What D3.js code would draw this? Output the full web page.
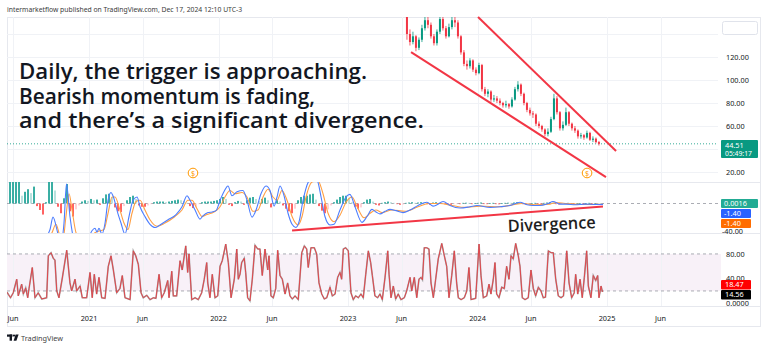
<!DOCTYPE html>
<html><head><meta charset="utf-8">
<script src="https://cdn.jsdelivr.net/npm/d3@7"></script>
<style>body{margin:0;background:#fff;} svg{display:block;font-family:"Noto Sans",sans-serif;}</style>
</head><body><svg id="c" width="768" height="349"></svg>
<script>
// ---------- DATA ----------
const timeTicks = [2020.414, 2021, 2021.414, 2022, 2022.414, 2023, 2023.414, 2024, 2024.414, 2025, 2025.414];
const timeTickLabels = ["Jun","2021","Jun","2022","Jun","2023","Jun","2024","Jun","2025","Jun"];
const priceGrid = [140, 120, 100, 80, 60, 40, 20];
const priceTickLabels = [120, 100, 80, 60, 20];
const oscTickLabels = [[80,"80.00"],[40,"40.00"],[0,"0.0000"]];
const lastPrice = 44.51;
const countdown = "05:49:17";

// weekly-ish candles (step ~8.5 days) from mid 2023
const priceStart = 2023.432, priceStep = 0.023166;
const priceO = [165,158,140,133,138,128,135,145,152,148,138,132,142,153,145,138,146,152,150,138,124,114,112,117,109,106,113,92,88,90,83,84,82,80,78,79,77,83,92,96,88,80,74,71,70,62,60,57,53,55,66,84,72,58,61,72,62,58,56,51,52,50,54,48,49,46];
const priceH = [170,160,144,142,139,137,148,156,155,150,140,144,157,155,147,149,157,158,152,139,126,117,119,118,111,115,114,94,92,91,87,86,84,81,82,80,85,94,99,97,89,81,76,73,71,64,61,58,58,68,88,86,73,64,76,73,63,60,57,54,53,56,55,51,50,47];
const priceL = [156,135,130,131,125,126,133,143,145,136,130,130,140,143,136,137,144,146,136,122,112,109,110,107,104,105,90,86,85,81,81,80,78,76,76,75,76,82,90,86,78,72,69,67,60,58,55,51,51,54,65,70,56,56,60,60,56,54,49,49,48,49,47,46,45,43];
const priceC = [160,140,133,138,128,135,145,152,148,138,132,142,153,145,138,146,152,150,138,124,114,112,117,109,106,113,92,88,90,83,84,82,80,78,79,77,83,92,96,88,80,74,71,70,62,60,57,53,55,66,84,72,58,61,72,62,58,56,51,52,50,54,48,49,46,44.51];

// trendlines [t, price]
const upperTrend = [[2024.004, 154.8],[2025.070, 38.3]];
const lowerTrend = [[2023.487, 124.3],[2024.992, 15.6]];
const dividends = [2021.803, 2024.846];

// MACD
const histStart = 2020.390, histStep = 0.023166;
const macdHist = [34,34,34,34,12,18,22,16,26,-4,-10,-17,2,35,35,20,-5,-15,8,30,-12,-20,-9,-3,3,5,4,7,5,6,-2,8,14,15,10,-6,-12,-13,-4,5,10,12,7,-3,-5,-5,-3,-1,2,3,3,3,2,3,4,5,6,5,4,1,-4,-7,-5,-1,2,3,3,3,4,5,7,10,7,-2,-4,2,4,3,-2,5,9,10,7,4,7,9,5,-6,1,6,3,-3,-8,-12,-15,-8,5,10,12,12,14,15,6,-4,-11,-15,-9,-3,2,6,10,12,12,8,2,-5,-8,-6,2,6,7,3,-2,-3,1,2,3,2,1,-1,-2,-1.5,1,1.5,2,1,1.5,2,1,-1,-2,1.5,2,1,0.8,-1,-1.5,-2,-1,-0.8,-1,1,1.2,1,-1,0.8,1,1.5,-0.8,-1,0.8,1,-1,-1.2,0.7,1,1.2,1,1.5,2,1.5,-1,-1.5,-1,0.8,1,-0.8,-1,1,1.5,2,1.5,-1,-1.5,-1,0.8,1,-0.8,-1,0.7,0.8,-0.7,0.7,1,-0.7,0.6,0.5,0.2];
const macdT = [2020.367,2020.622,2020.676,2020.699,2020.722,2020.761,2020.784,2020.807,2020.826,2020.853,2020.876,2020.915,2020.992,2021.023,2021.046,2021.062,2021.077,2021.100,2021.124,2021.147,2021.170,2021.185,2021.224,2021.247,2021.278,2021.309,2021.340,2021.371,2021.394,2021.432,2021.471,2021.510,2021.548,2021.610,2021.672,2021.718,2021.757,2021.780,2021.819,2021.857,2021.880,2021.919,2021.950,2021.981,2022.012,2022.042,2022.073,2022.104,2022.143,2022.189,2022.220,2022.259,2022.290,2022.328,2022.367,2022.398,2022.429,2022.452,2022.475,2022.506,2022.537,2022.568,2022.598,2022.622,2022.653,2022.691,2022.722,2022.761,2022.792,2022.822,2022.861,2022.892,2022.938,2022.985,2023.015,2023.054,2023.108,2023.147,2023.185,2023.216,2023.247,2023.286,2023.324,2023.371,2023.425,2023.479,2023.541,2023.610,2023.656,2023.687,2023.734,2023.788,2023.865,2023.942,2023.996,2024.097,2024.174,2024.251,2024.328,2024.382,2024.429,2024.483,2024.544,2024.583,2024.637,2024.691,2024.753,2024.830,2024.907,2024.969];
const macdV = [-80,-70,-50,-40,-21,-47,-60,-30,30,-20,-50,-70,-55,-42,-38,-44,-38,-47,-30,5,17,12,-16,-30,-47,-20,5,10,-5,-20,-32,-37,-33,-25,-17,-5,12,5,-10,-24,-19,-14,-13,-11,5,18,27,12,18,20,5,-21,-10,15,27,20,-4,10,27,12,-15,-32,-37,-28,5,32,38,36,10,-20,-33,-32,-10,10,14,-5,-29,-20,-9,-13,-16,-12,-9,-11,-14,-10,-3,2,-4,-2,3,-3,-7,-5,-3,-6,-5,-3,2,-2,-3,-3,0,3,-1,-1,-2,-1,-1.5,-1.4];
const signalT = [2020.367,2020.660,2020.714,2020.745,2020.776,2020.799,2020.822,2020.846,2020.869,2020.900,2020.969,2021.046,2021.085,2021.116,2021.147,2021.178,2021.201,2021.239,2021.270,2021.301,2021.332,2021.363,2021.394,2021.432,2021.471,2021.525,2021.587,2021.664,2021.718,2021.764,2021.795,2021.834,2021.873,2021.911,2021.965,2022.012,2022.050,2022.089,2022.127,2022.181,2022.220,2022.266,2022.305,2022.344,2022.382,2022.421,2022.452,2022.490,2022.529,2022.568,2022.614,2022.645,2022.676,2022.722,2022.768,2022.807,2022.846,2022.892,2022.938,2022.985,2023.031,2023.070,2023.124,2023.170,2023.216,2023.263,2023.340,2023.440,2023.541,2023.625,2023.710,2023.803,2023.903,2024.019,2024.174,2024.344,2024.444,2024.560,2024.606,2024.676,2024.792,2024.969];
const signalV = [-85,-65,-45,-32,-50,-55,-20,15,-10,-45,-65,-45,-42,-40,-15,10,10,-10,-30,-40,-15,3,5,-10,-25,-35,-30,-20,-10,5,5,-8,-20,-17,-13,-5,10,20,15,17,10,-12,-10,10,22,10,5,20,5,-20,-33,-20,10,33,35,15,-15,-28,-18,2,10,-5,-22,-15,-10,-14,-10,-12,-5,0,0,-3,-6,-4,-5,0,-2,-1,1.5,0,-1.5,-1.4];
const divergenceLine = [[2022.568, -41.5],[2024.969, -4.6]];
const macdLabels = ["0.0016","-1.40","-1.40"];

// Oscillator
const oscT = [2020.367,2020.377,2020.394,2020.415,2020.442,2020.454,2020.480,2020.493,2020.511,2020.527,2020.537,2020.562,2020.583,2020.608,2020.635,2020.673,2020.686,2020.707,2020.724,2020.737,2020.751,2020.768,2020.794,2020.828,2020.853,2020.866,2020.892,2020.905,2020.931,2020.948,2020.982,2021.008,2021.025,2021.041,2021.059,2021.077,2021.098,2021.124,2021.149,2021.170,2021.188,2021.214,2021.239,2021.257,2021.278,2021.317,2021.342,2021.361,2021.381,2021.402,2021.419,2021.446,2021.471,2021.497,2021.517,2021.541,2021.561,2021.581,2021.608,2021.618,2021.639,2021.651,2021.677,2021.703,2021.720,2021.747,2021.762,2021.772,2021.793,2021.819,2021.844,2021.870,2021.890,2021.909,2021.917,2021.934,2021.952,2021.973,2021.994,2022.012,2022.029,2022.056,2022.076,2022.097,2022.122,2022.141,2022.153,2022.166,2022.179,2022.199,2022.210,2022.225,2022.243,2022.261,2022.282,2022.303,2022.320,2022.338,2022.359,2022.380,2022.390,2022.405,2022.423,2022.442,2022.457,2022.475,2022.493,2022.514,2022.534,2022.552,2022.570,2022.591,2022.616,2022.643,2022.663,2022.681,2022.693,2022.714,2022.740,2022.758,2022.776,2022.797,2022.817,2022.836,2022.861,2022.879,2022.900,2022.920,2022.938,2022.951,2022.964,2022.982,2023.002,2023.023,2023.041,2023.059,2023.080,2023.100,2023.118,2023.137,2023.157,2023.175,2023.188,2023.208,2023.229,2023.247,2023.265,2023.286,2023.307,2023.317,2023.332,2023.350,2023.368,2023.388,2023.409,2023.435,2023.453,2023.479,2023.492,2023.512,2023.531,2023.548,2023.564,2023.575,2023.589,2023.608,2023.625,2023.641,2023.659,2023.677,2023.697,2023.724,2023.744,2023.762,2023.780,2023.801,2023.821,2023.839,2023.852,2023.873,2023.898,2023.917,2023.934,2023.950,2023.986,2024.012,2024.027,2024.045,2024.071,2024.089,2024.104,2024.122,2024.135,2024.148,2024.166,2024.187,2024.207,2024.225,2024.243,2024.259,2024.276,2024.295,2024.315,2024.328,2024.346,2024.367,2024.392,2024.413,2024.431,2024.449,2024.470,2024.490,2024.508,2024.525,2024.547,2024.568,2024.585,2024.604,2024.624,2024.645,2024.664,2024.689,2024.707,2024.727,2024.747,2024.758,2024.774,2024.792,2024.809,2024.825,2024.843,2024.856,2024.876,2024.894,2024.913,2024.928,2024.938,2024.954,2024.965];
const oscV = [18,14.6,9,17,39,12,31,15,25,9,24,58,9,17,7,9,77,82,73,70,20,9,41,86,33,20,39,20,28,9,9,50,9,47,15,42,9,8,60,77,54,17,24,45,9,6,85,77,63,17,9,13,6,9,8,47,9,17,37,9,52,12,12,69,54,93,50,80,6,9,6,17,39,66,33,9,47,9,12,60,69,96,66,9,39,88,39,47,66,73,50,9,4,39,94,88,88,45,88,54,77,12,9,24,86,45,39,15,33,12,7,12,6,82,93,88,58,90,90,80,33,15,7,9,26,12,15,42,50,39,88,90,85,17,6,12,9,15,9,47,85,66,45,12,9,15,6,42,85,47,9,28,7,15,6,9,20,42,20,42,9,39,42,38,90,90,88,33,9,39,72,97,77,60,9,45,85,33,9,6,9,20,58,6,8,96,45,9,12,31,15,39,66,15,9,26,24,60,39,77,72,97,77,60,9,6,9,54,24,12,26,20,9,10,85,82,82,39,12,9,12,85,33,9,17,47,15,39,9,42,85,28,9,45,37,45,9,28,18.47];
const oscLabels = ["18.47","14.56"];

const headerText = "intermarketflow published on TradingView.com, Dec 17, 2024 12:10 UTC-3";
const noteLines = ["Daily, the trigger is approaching.","Bearish momentum is fading,","and there\u2019s a significant divergence."];

// ---------- LAYOUT ----------
const L = 7, R = 718, FR = 760, T = 17, P1 = 182, P2 = 233, P3 = 306, B = 326;
const svg = d3.select("#c");
svg.append("rect").attr("width",768).attr("height",349).attr("fill","#fff");

const x = d3.scaleLinear().domain([2021, 2025]).range([89, 607]);
const yP = d3.scaleLinear().domain([20, 120]).range([172, 57]);
const yM = d3.scaleLinear().domain([-40, 0]).range([229.5, 203.5]);
const yO = d3.scaleLinear().domain([0, 100]).range([303.3, 241.6]);

const defs = svg.append("defs");
function clip(id, y0, y1){ defs.append("clipPath").attr("id",id).append("rect").attr("x",L).attr("y",y0).attr("width",R-L).attr("height",y1-y0); }
clip("cp", T, P1); clip("cm", P1, P2); clip("co", P2, P3);

// header
svg.append("text").attr("x",7).attr("y",12).attr("font-size",6.8).attr("fill","#3a3a3a").text(headerText);

// frame
svg.append("rect").attr("x",L+0.5).attr("y",T+0.5).attr("width",FR-L).attr("height",B-T).attr("fill","none").attr("stroke","#e6e8ee");

// oscillator band (behind grid)
svg.append("rect").attr("x",L).attr("y",yO(80)).attr("width",R-L+3).attr("height",yO(20)-yO(80)).attr("fill","#f8f1f8");

// vertical grid
const grid = svg.append("g").attr("stroke","#f0f2f6").attr("stroke-width",1);
timeTicks.forEach(t => { const xx = Math.round(x(t))+0.5; if (xx < R) grid.append("line").attr("x1",xx).attr("x2",xx).attr("y1",T).attr("y2",P3); });
priceGrid.forEach(v => grid.append("line").attr("x1",L).attr("x2",R).attr("y1",Math.round(yP(v))+0.5).attr("y2",Math.round(yP(v))+0.5));

// pane separators
[P1, P2, P3].forEach(yy => svg.append("line").attr("x1",L).attr("x2",FR).attr("y1",yy+0.5).attr("y2",yy+0.5).attr("stroke","#e6e8ee"));

// ---------- PRICE PANE ----------
const gp = svg.append("g").attr("clip-path","url(#cp)");
gp.append("line").attr("x1",L).attr("x2",R).attr("y1",yP(lastPrice)).attr("y2",yP(lastPrice))
  .attr("stroke","#089981").attr("stroke-dasharray","1,2").attr("opacity",0.8);
priceC.forEach((c,i) => {
  const t = priceStart + i*priceStep, cx = x(t), o = priceO[i];
  const col = c >= o ? "#089981" : "#F23645";
  gp.append("line").attr("x1",cx).attr("x2",cx).attr("y1",yP(priceH[i])).attr("y2",yP(priceL[i])).attr("stroke",col).attr("stroke-width",0.8);
  const y0 = yP(Math.max(o,c)), y1 = yP(Math.min(o,c));
  gp.append("rect").attr("x",cx-1).attr("y",y0).attr("width",2).attr("height",Math.max(0.8,y1-y0)).attr("fill",col);
});
const tl = d3.line().x(d=>x(d[0])).y(d=>yP(d[1]));
[upperTrend, lowerTrend].forEach(seg => svg.append("path").attr("d",tl(seg)).attr("stroke","#F23645").attr("stroke-width",2).attr("fill","none"));

// dividends markers
dividends.forEach(t => {
  const g = svg.append("g").attr("transform",`translate(${x(t)},${P1-9})`);
  g.append("circle").attr("r",4.8).attr("fill","#fff").attr("stroke","#FF9800").attr("stroke-width",1);
  g.append("text").attr("y",2.6).attr("text-anchor","middle").attr("font-size",7).attr("fill","#FF9800").text("$");
});

// ---------- MACD PANE ----------
const gm = svg.append("g").attr("clip-path","url(#cm)");
gm.append("line").attr("x1",L).attr("x2",R).attr("y1",yM(0)).attr("y2",yM(0)).attr("stroke","#9598a1").attr("stroke-dasharray","3,3").attr("stroke-width",0.8);
macdHist.forEach((v,i) => {
  const prev = i>0 ? macdHist[i-1] : v;
  let col;
  if (v >= 0) col = v >= prev ? "#26A69A" : "#B2DFDB"; else col = v <= prev ? "#FF5252" : "#FFCDD2";
  const cx = x(histStart + i*histStep);
  const y0 = Math.min(yM(v), yM(0)), h = Math.abs(yM(v)-yM(0));
  gm.append("rect").attr("x",cx-0.9).attr("y",y0).attr("width",1.8).attr("height",Math.max(0.6,h)).attr("fill",col);
});
const lm = d3.line().x(d=>x(d[0])).y(d=>yM(d[1])).curve(d3.curveMonotoneX);
gm.append("path").attr("d",lm(d3.zip(signalT,signalV))).attr("stroke","#FF9F43").attr("stroke-width",1.1).attr("fill","none");
gm.append("path").attr("d",lm(d3.zip(macdT,macdV))).attr("stroke","#4C7DFF").attr("stroke-width",1.1).attr("fill","none");
svg.append("path").attr("d",d3.line().x(d=>x(d[0])).y(d=>yM(d[1]))(divergenceLine)).attr("stroke","#F23645").attr("stroke-width",2).attr("fill","none");

// ---------- OSC PANE ----------
const go = svg.append("g").attr("clip-path","url(#co)");
[80,20].forEach(v => go.append("line").attr("x1",L).attr("x2",R).attr("y1",yO(v)).attr("y2",yO(v)).attr("stroke","#9598a1").attr("stroke-dasharray","3,3").attr("stroke-width",0.8));
const lo = d3.line().x(d=>x(d[0])).y(d=>yO(d[1]));
const oscData = d3.zip(oscT, oscV);
go.append("path").attr("d",lo(oscData)).attr("stroke","#555").attr("stroke-width",1.6).attr("fill","none").attr("opacity",0.5);
go.append("path").attr("d",lo(oscData)).attr("stroke","#E0474C").attr("stroke-width",1).attr("fill","none");

// ---------- ANNOTATIONS ----------
const noteWidths = [348, 296, 405];
const noteBase = [79, 104, 128];
noteLines.forEach((s,i) => svg.append("text").attr("x",19).attr("y",noteBase[i]).attr("font-family","'Open Sans',sans-serif")
  .attr("font-weight",600).attr("font-size",21).attr("fill","#131722").attr("textLength",noteWidths[i]).attr("lengthAdjust","spacingAndGlyphs").text(s));
svg.append("text").attr("transform","translate(508,232) rotate(-2.6)").attr("font-family","'Open Sans',sans-serif")
  .attr("font-weight",600).attr("font-size",17).attr("fill","#1e1e1e").attr("textLength",88).attr("lengthAdjust","spacingAndGlyphs").text("Divergence");

// ---------- AXES ----------
const ax = svg.append("g").attr("font-size",7.3).attr("fill","#131722");
timeTicks.forEach((t,i) => ax.append("text").attr("x",x(t)).attr("y",321).attr("text-anchor","middle").text(timeTickLabels[i]));
// price scale
svg.append("rect").attr("x",722.5).attr("y",21.5).attr("width",35).attr("height",13).attr("rx",2).attr("fill","#fff").attr("stroke","#e0e3eb");
ax.append("text").attr("x",740).attr("y",30.5).attr("text-anchor","middle").text("USD");
priceTickLabels.forEach(v => ax.append("text").attr("x",726).attr("y",yP(v)+2.6).text(v.toFixed(2)));
svg.append("rect").attr("x",721).attr("y",140).attr("width",37).attr("height",18).attr("rx",1).attr("fill","#089981");
svg.append("text").attr("x",725).attr("y",148).attr("font-size",7.3).attr("fill","#fff").text(lastPrice.toFixed(2));
svg.append("text").attr("x",725).attr("y",156).attr("font-size",6.8).attr("fill","#fff").text(countdown);
// MACD scale
const mcols = ["#22AB94","#2962FF","#FF6D00"], my = [199, 209, 219], mw = [37, 30, 30];
ax.append("text").attr("x",722).attr("y",yM(-40)+4.2).text("-40.00");
macdLabels.forEach((s,i) => { svg.append("rect").attr("x",721).attr("y",my[i]).attr("width",mw[i]).attr("height",9).attr("rx",1).attr("fill",mcols[i]);
  svg.append("text").attr("x",724).attr("y",my[i]+7).attr("font-size",7.3).attr("fill","#fff").text(s); });
// osc scale
oscTickLabels.forEach(d => ax.append("text").attr("x",726).attr("y",yO(d[0])+2.6).text(d[1]));
const ocols = ["#FF0000","#000000"], oy = [280, 290];
oscLabels.forEach((s,i) => { svg.append("rect").attr("x",721).attr("y",oy[i]).attr("width",30).attr("height",9.5).attr("rx",1).attr("fill",ocols[i]);
  svg.append("text").attr("x",725).attr("y",oy[i]+7.3).attr("font-size",7.3).attr("fill","#fff").text(s); });

// footer logo
const lg = svg.append("g").attr("fill","#131722");
lg.append("rect").attr("x",7).attr("y",334.5).attr("width",5.5).attr("height",2.2);
lg.append("rect").attr("x",9.6).attr("y",334.5).attr("width",2.4).attr("height",6.2);
lg.append("circle").attr("cx",14).attr("cy",335.6).attr("r",1.1);
lg.append("path").attr("d","M15.6,334.5 L18.6,334.5 L16.4,340.7 L13.6,340.7 Z");
svg.append("text").attr("x",21).attr("y",340.5).attr("font-size",7.3).attr("fill","#444").text("TradingView");
</script></body></html>
